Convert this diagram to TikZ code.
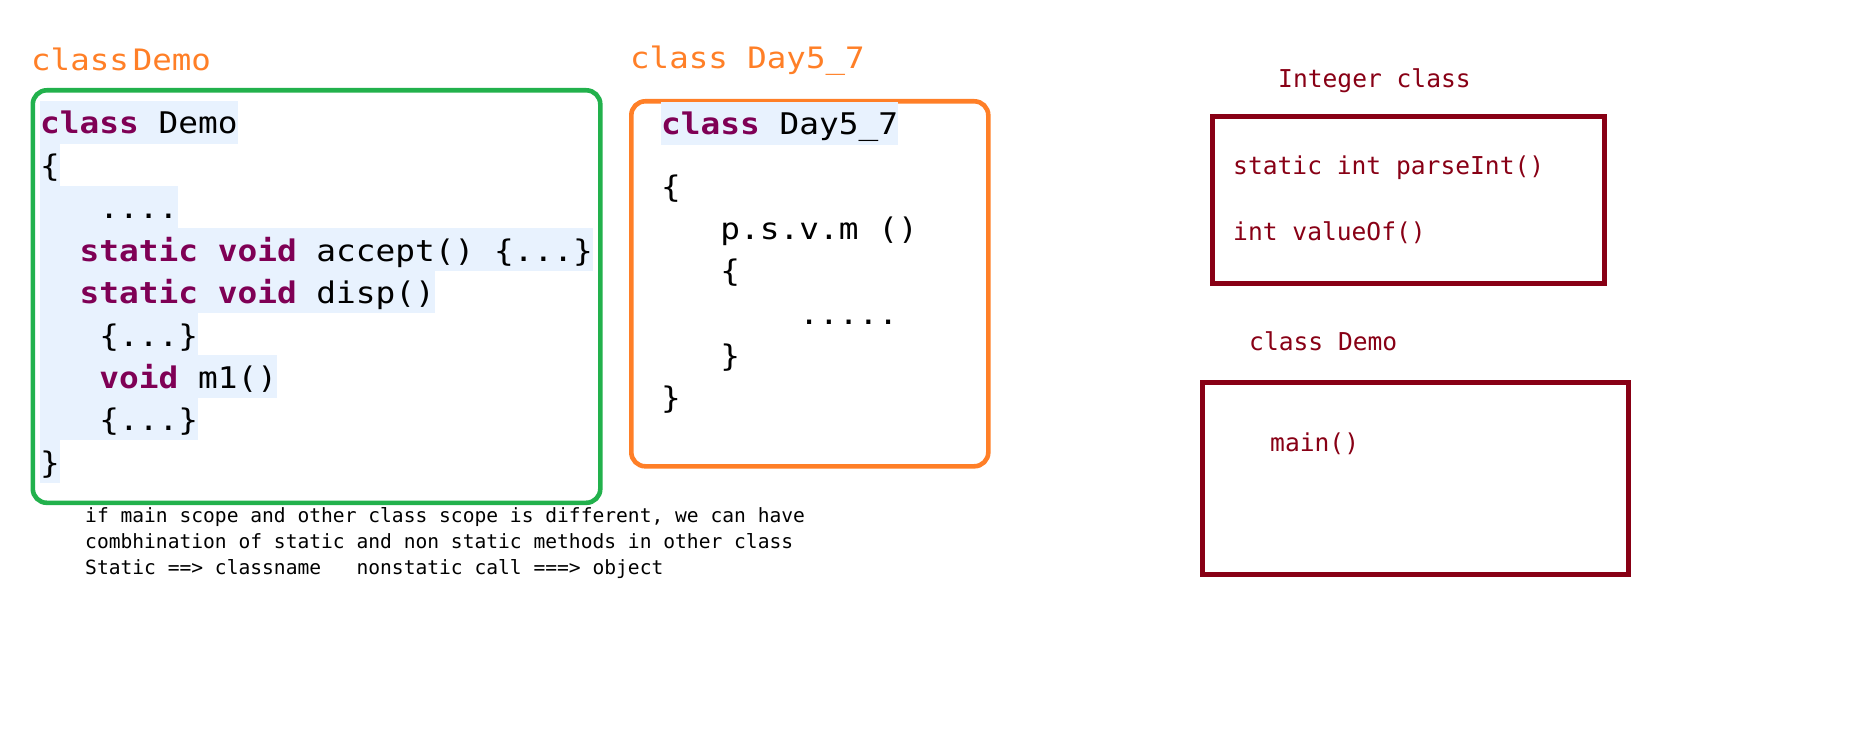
\documentclass[tikz,border=0pt]{standalone}
\usepackage{fontspec}
\usetikzlibrary{positioning}

\newfontfamily\codefont[FakeStretch=1.1]{DejaVu Sans Mono}
\newfontfamily\titlefont[FakeStretch=1.1]{DejaVu Sans Mono}
\newfontfamily\notefont{DejaVu Sans Mono}

\definecolor{demogreen}{RGB}{34,177,76}
\definecolor{dayorange}{RGB}{255,127,39}
\definecolor{intred}{RGB}{136,0,21}
\definecolor{kwpurple}{RGB}{127,0,85}
\definecolor{selblue}{RGB}{232,242,254}

\newcommand{\kw}[1]{\textcolor{kwpurple}{\bfseries #1}}

\begin{document}
\begin{tikzpicture}[x=1pt, y=-1pt,
  codeline/.style={anchor=base west, inner sep=0pt, text height=33pt, text depth=9.6pt,
    fill=selblue, font=\codefont\fontsize{29.8}{35}\selectfont},
  codetext/.style={anchor=base west, inner sep=0pt, text height=33pt, text depth=8.6pt,
    font=\codefont\fontsize{29.8}{35}\selectfont},
  boxtitle/.style={anchor=base west, inner sep=0pt, text=dayorange,
    font=\titlefont\fontsize{29.5}{35}\selectfont},
  intline/.style={anchor=base west, inner sep=0pt, text=intred,
    font=\notefont\fontsize{24.6}{30}\selectfont},
  noteline/.style={inner sep=0pt, text height=15pt, text depth=10.7pt,
    font=\notefont\fontsize{19.6}{25}\selectfont},
  classbox/.style={draw, line width=4.6pt, rounded corners=14pt, anchor=north west, inner sep=0pt},
  intbox/.style={draw=intred, line width=5pt, anchor=north west, inner sep=0pt}]

  \useasboundingbox (0,0) rectangle (1852,743);

  % class Demo
  \node[boxtitle] (demotitle) at (31,70.7) {class\hspace{4pt}Demo};
  \node[classbox, draw=demogreen, minimum width=567.5pt, minimum height=412.5pt] (demobox) at (30.5,88) {};
  \node[codeline] (d1) at (40,134) {\kw{class} Demo};
  \node[codeline, below=-0.6pt of d1.south west, anchor=north west] (d2) {\{};
  \node[codeline, below=-0.6pt of d2.south west, anchor=north west] (d3) {~~~....};
  \node[codeline, below=-0.6pt of d3.south west, anchor=north west] (d4) {~~\kw{static} \kw{void} accept() \{...\}};
  \node[codeline, below=-0.6pt of d4.south west, anchor=north west] (d5) {~~\kw{static} \kw{void} disp()};
  \node[codeline, below=-0.6pt of d5.south west, anchor=north west] (d6) {~~~\{...\}};
  \node[codeline, below=-0.6pt of d6.south west, anchor=north west] (d7) {~~~\kw{void} m1()};
  \node[codeline, below=-0.6pt of d7.south west, anchor=north west] (d8) {~~~\{...\}};
  \node[codeline, below=-0.6pt of d8.south west, anchor=north west] (d9) {\}};

  \node[noteline, anchor=base west] (note1) at (85,522.7) {if main scope and other class scope is different, we can have};
  \node[noteline, below=0pt of note1.south west, anchor=north west] (note2) {combhination of static and non static methods in other class};
  \node[noteline, below=0pt of note2.south west, anchor=north west] (note3) {Static ==> classname~~~nonstatic call ===> object};

  % class Day5_7
  \node[boxtitle] (daytitle) at (630,68.3) {class Day5\_7};
  \node[classbox, draw=dayorange, minimum width=357pt, minimum height=365pt] (daybox) at (629,99) {};
  \node[codeline] (y1) at (661,135) {\kw{class} Day5\_7};
  \node[codetext] (y2) at (661,198) {\{};
  \node[codetext, below=0pt of y2.south west, anchor=north west] (y3) {~~~p.s.v.m ()};
  \node[codetext, below=0pt of y3.south west, anchor=north west] (y4) {~~~\{};
  \node[codetext, below=0pt of y4.south west, anchor=north west] (y5) {~~~~~~~.....};
  \node[codetext, below=0pt of y5.south west, anchor=north west] (y6) {~~~\}};
  \node[codetext, below=0pt of y6.south west, anchor=north west] (y7) {\}};

  % Integer class and class Demo
  \node[intline] (inttitle) at (1278,88) {Integer class};
  \node[intbox, minimum width=392pt, minimum height=167pt] (intrect) at (1210,114) {};
  \node[intline] (parseint) at (1233,175) {static int parseInt()};
  \node[intline] (valueof) at (1233,241) {int valueOf()};
  \node[intline] (maintitle) at (1249,350) {class Demo};
  \node[intbox, minimum width=425.7pt, minimum height=192.5pt] (mainrect) at (1200,379.5) {};
  \node[intline] (mainm) at (1270,451.7) {main()};
\end{tikzpicture}
\end{document}
